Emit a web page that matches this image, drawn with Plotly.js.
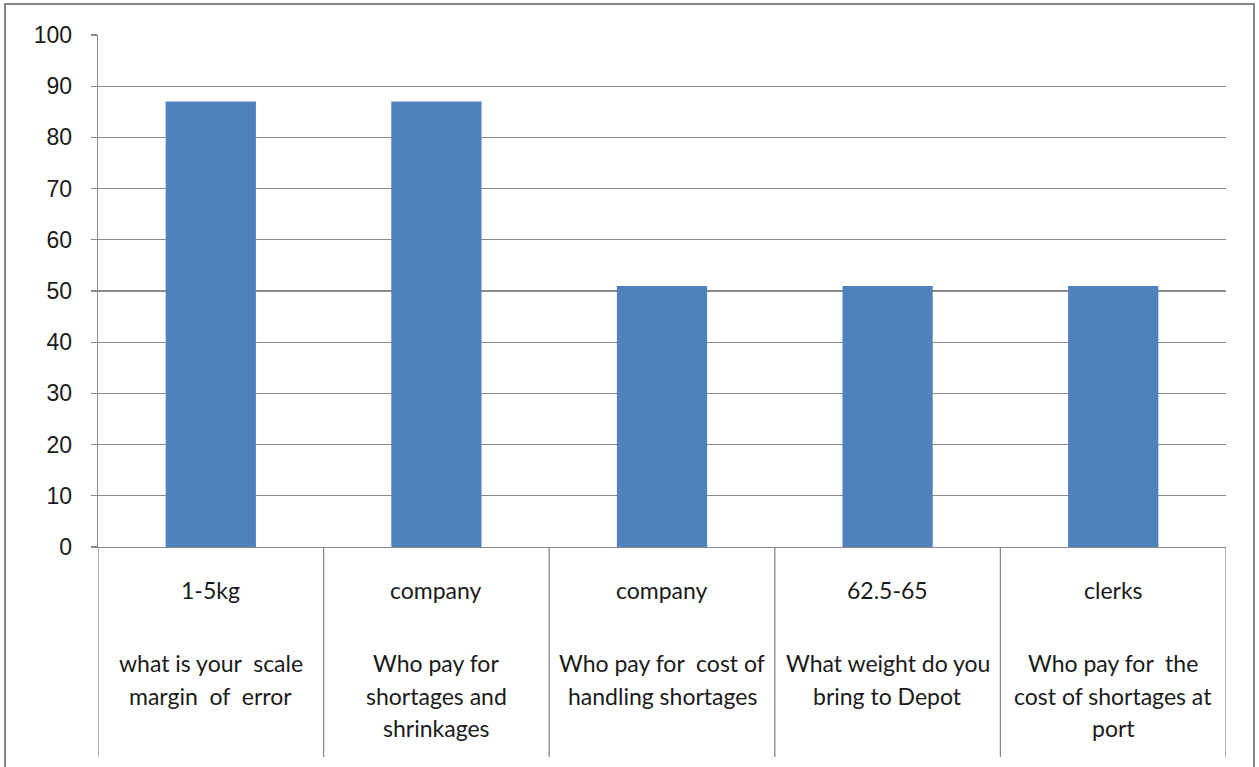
<!DOCTYPE html>
<html>
<head>
<meta charset="utf-8">
<script src="https://cdn.plot.ly/plotly-3.0.1.min.js"></script>
<style>html,body{margin:0;padding:0;background:#fff;}#chart{width:1259px;height:767px;}</style>
</head>
<body>
<div id="chart"></div>
<script>
// Data
const answers = ["1-5kg", "company", "company", "62.5-65", "clerks"];
const questions = [
  ["what is your  scale", "margin  of  error"],
  ["Who pay for", "shortages and", "shrinkages"],
  ["Who pay for  cost of", "handling shortages"],
  ["What weight do you", "bring to Depot"],
  ["Who pay for  the", "cost of shortages at", "port"]
];
const values = [87, 87, 51, 51, 51];
const yTicks = [0, 10, 20, 30, 40, 50, 60, 70, 80, 90, 100];

const plotH = 512, plotW = 1128, mL = 98, mT = 35;
const px2y = p => (mT + plotH - p) / plotH;   // page pixel y -> paper y
const px2x = p => (p - mL) / plotW;           // page pixel x -> paper x

const xIdx = answers.map((_, i) => i);
const gray = "#8a8a8a";
const txtFont = {family: "Lato, 'Open Sans', sans-serif", size: 23, color: "#1a1a1a"};

const annotations = [];
const shapes = [];
xIdx.forEach(i => {
  annotations.push({x: i, xref: "x", y: px2y(590), yref: "paper", text: answers[i],
    showarrow: false, xanchor: "center", yanchor: "middle", font: txtFont});
  questions[i].forEach((line, j) => {
    annotations.push({x: i, xref: "x", y: px2y(663 + j * 32.5), yref: "paper", text: line,
      showarrow: false, xanchor: "center", yanchor: "middle", font: txtFont});
  });
});
for (let k = 0; k <= answers.length; k++) {
  shapes.push({type: "line", xref: "x", yref: "paper", x0: k - 0.5, x1: k - 0.5,
    y0: 0, y1: px2y(757), line: {color: gray, width: 1.3}});
}
// outer frame
shapes.push({type: "rect", xref: "paper", yref: "paper",
  x0: px2x(5), x1: px2x(1254), y0: px2y(770), y1: px2y(4),
  line: {color: "#868686", width: 2}});

const trace = {
  type: "bar", x: xIdx, y: values, width: 0.4,
  marker: {color: "#4F81BD"}, hoverinfo: "skip"
};

const layout = {
  width: 1259, height: 767,
  margin: {l: mL, r: 1259 - mL - plotW, t: mT, b: 767 - mT - plotH, pad: 0},
  paper_bgcolor: "#ffffff", plot_bgcolor: "#ffffff",
  showlegend: false, bargap: 0.6,
  xaxis: {type: "linear", range: [-0.5, 4.5], showticklabels: false, showgrid: false,
    zeroline: false, showline: true, linecolor: gray, linewidth: 1.3, ticks: ""},
  yaxis: {range: [0, 100], tickvals: yTicks, ticktext: yTicks.map(String),
    showgrid: true, gridcolor: gray, gridwidth: 1.3, zeroline: false,
    showline: true, linecolor: gray, linewidth: 1.3,
    ticks: "outside", ticklen: 6, tickcolor: gray, tickwidth: 1.3,
    ticklabelstandoff: 14,
    tickfont: {family: "'Liberation Sans', Arial, sans-serif", size: 23, color: "#1a1a1a"}},
  annotations: annotations, shapes: shapes
};

Plotly.newPlot("chart", [trace], layout, {staticPlot: true, displayModeBar: false});
</script>
</body>
</html>
